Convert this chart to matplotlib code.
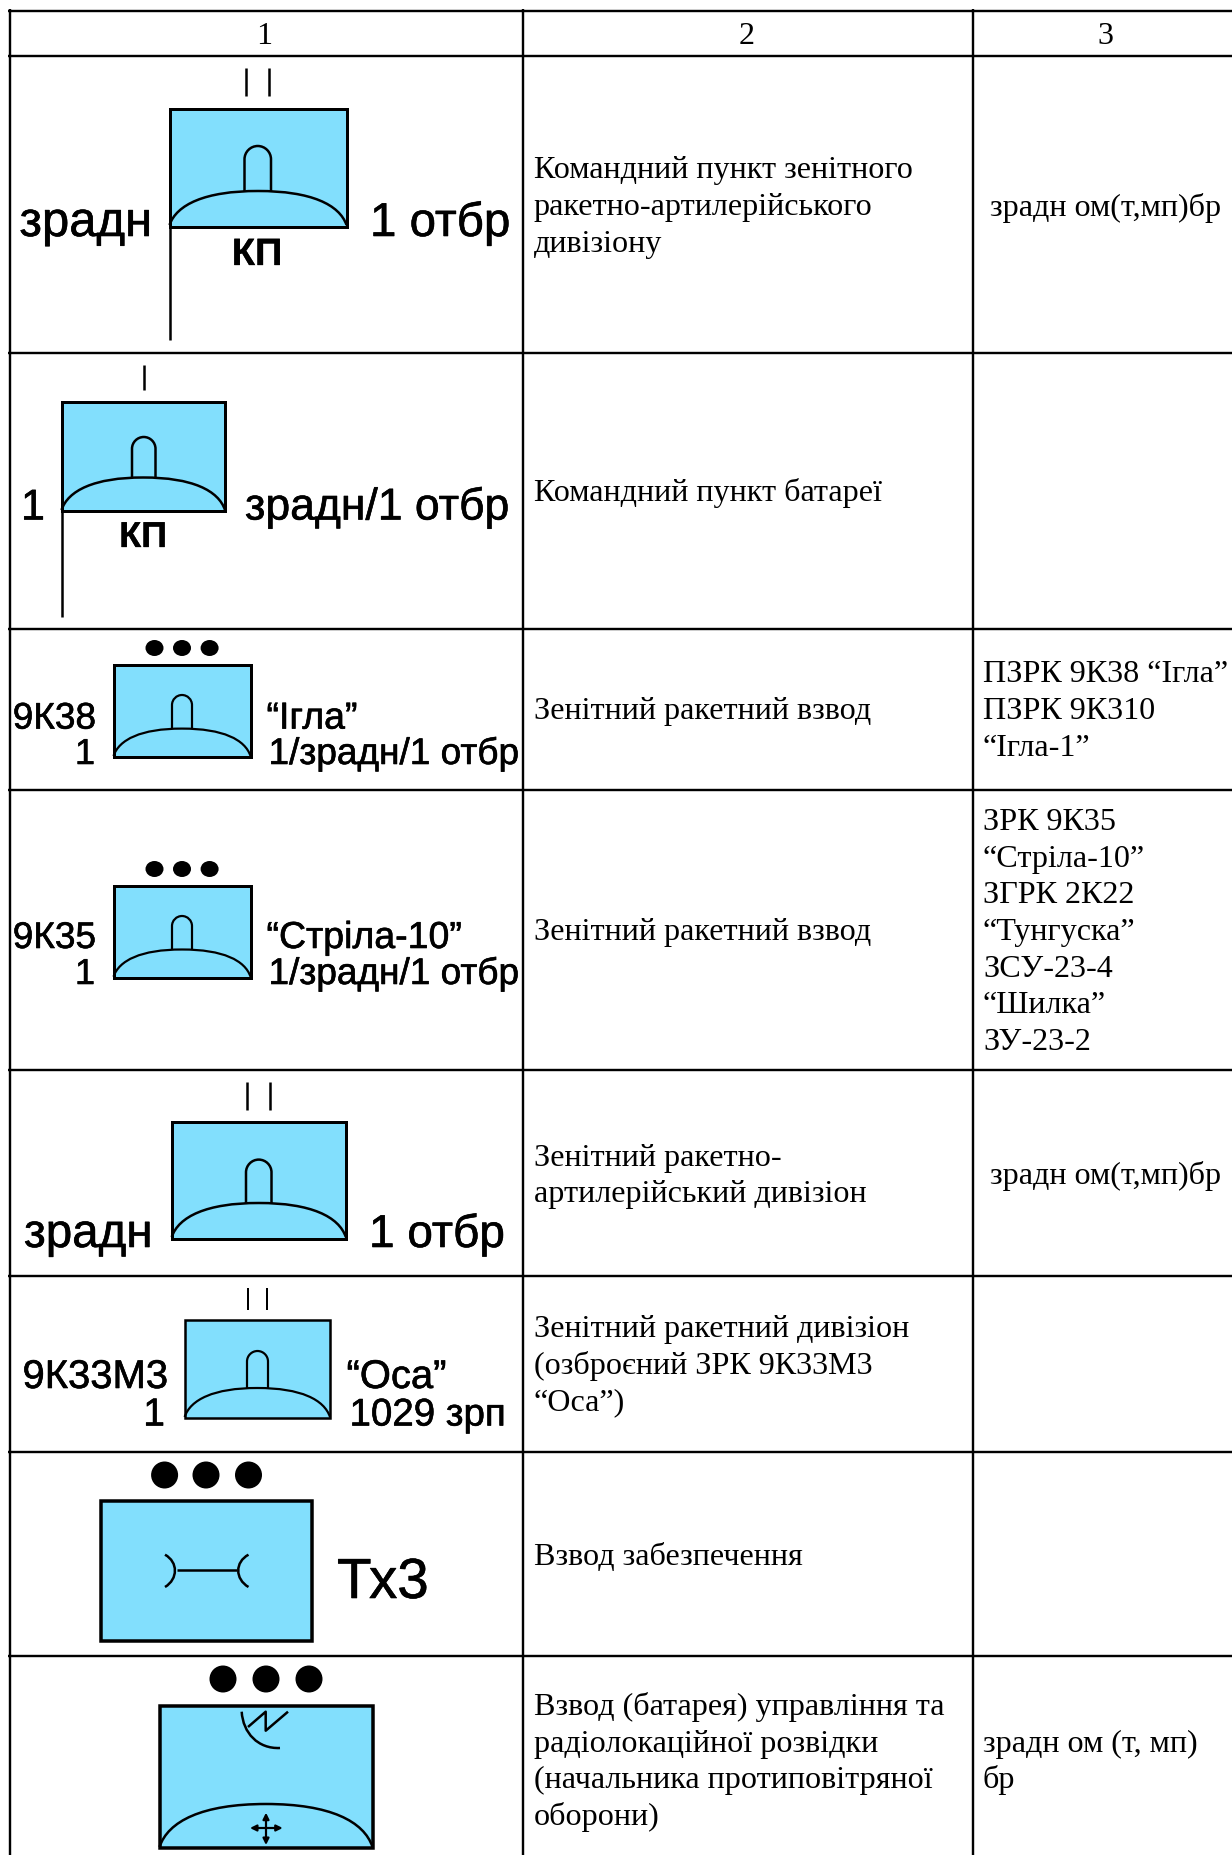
import matplotlib
matplotlib.use('Agg')
import matplotlib.pyplot as plt
import matplotlib.patheffects as pe
from matplotlib.path import Path
from matplotlib.patches import PathPatch, Rectangle, Ellipse

W, H = 1232, 1855
BLUE = '#82DFFD'
SANS = 'Liberation Sans'
SERIF = 'Liberation Serif'

# table grid, in image pixels
col_lines = [9.5, 523, 973]
row_lines = [10.5, 56, 353, 628.5, 789.5, 1070, 1276, 1452, 1656]

# text of the table
headers = ['1', '2', '3']
col2_text = [
    ['Командний пункт зенітного', 'ракетно-артилерійського', 'дивізіону'],
    ['Командний пункт батареї'],
    ['Зенітний ракетний взвод'],
    ['Зенітний ракетний взвод'],
    ['Зенітний ракетно-', 'артилерійський дивізіон'],
    ['Зенітний ракетний дивізіон', '(озброєний ЗРК 9К33М3', '“Оса”)'],
    ['Взвод забезпечення'],
    ['Взвод (батарея) управління та', 'радіолокаційної розвідки', '(начальника протиповітряної', 'оборони)'],
]
col2_mid = [205, 491, 709, 930, 1174, 1364, 1555, 1760]
col3_text = [
    ['зрадн ом(т,мп)бр'],
    [],
    ['ПЗРК 9К38 “Ігла”', 'ПЗРК 9К310', '“Ігла-1”'],
    ['ЗРК 9К35', '“Стріла-10”', 'ЗГРК 2К22', '“Тунгуска”', 'ЗСУ-23-4', '“Шилка”', 'ЗУ-23-2'],
    ['зрадн ом(т,мп)бр'],
    [],
    [],
    ['зрадн ом (т, мп)', 'бр'],
]
col3_mid = [206, 0, 709, 930, 1174, 0, 0, 1760]
col3_x = [989.5, 0, 983, 983, 989.5, 0, 0, 983]

fig = plt.figure(figsize=(W / 100, H / 100), dpi=100)
ax = fig.add_axes([0, 0, 1, 1])
ax.set_xlim(0, W)
ax.set_ylim(H, 0)
ax.axis('off')


def px(v):
    return v * 72 / 100


def label(x, y, s, size, ha='left', weight='normal', family=SANS, stroke=0.6):
    t = ax.text(x, y, s, fontsize=px(size), ha=ha, va='baseline', family=family,
                fontweight=weight, color='black')
    if stroke:
        t.set_path_effects([pe.withStroke(linewidth=px(stroke), foreground='black')])


def curve(verts, codes, lw=2.5, fc='none', z=3):
    ax.add_patch(PathPatch(Path(verts, codes), fc=fc, ec='black', lw=px(lw),
                           capstyle='butt', joinstyle='round', zorder=z))


def box(x0, x1, y0, y1, lw=3):
    ax.add_patch(Rectangle((x0, y0), x1 - x0, y1 - y0, fc=BLUE, ec='black',
                           lw=px(lw), joinstyle='miter', zorder=2))


def dome(x0, x1, yb, ytop, lw=2.5):
    w = x1 - x0
    cx = (x0 + x1) / 2
    h = yb - ytop
    verts = [(x0, yb), (x0 + 0.04 * w, yb - 0.6 * h), (x0 + 0.2 * w, ytop), (cx, ytop),
             (x1 - 0.2 * w, ytop), (x1 - 0.04 * w, yb - 0.6 * h), (x1, yb)]
    codes = [Path.MOVETO] + [Path.CURVE4] * 6
    curve(verts, codes, lw=lw)


def antenna(x0, x1, ybase, ytop, lw=2.5):
    r = (x1 - x0) / 2
    k = 0.55 * r
    verts = [(x0, ybase), (x0, ytop + r), (x0, ytop + r - k), (x0 + r - k, ytop), (x0 + r, ytop),
             (x0 + r + k, ytop), (x1, ytop + r - k), (x1, ytop + r), (x1, ybase)]
    codes = [Path.MOVETO, Path.LINETO] + [Path.CURVE4] * 6 + [Path.LINETO]
    curve(verts, codes, lw=lw)


def bars(xs, y0, y1, lw=2.5):
    for x in xs:
        ax.plot([x, x], [y0, y1], color='black', lw=px(lw), solid_capstyle='butt', zorder=3)


def dots(xs, y, rx, ry):
    for x in xs:
        ax.add_patch(Ellipse((x, y), 2 * rx, 2 * ry, fc='black', ec='none', zorder=3))


def staff(x, y0, y1, lw=2.5):
    ax.plot([x, x], [y0, y1], color='black', lw=px(lw), solid_capstyle='butt', zorder=3)


# grid
for x in col_lines:
    ax.plot([x, x], [row_lines[0] - 1.2, H], color='black', lw=px(2.4), solid_capstyle='butt', zorder=1)
for y in row_lines:
    ax.plot([col_lines[0] - 1.2, W], [y, y], color='black', lw=px(2.4), solid_capstyle='butt', zorder=1)

# headers and text columns
SERIF_PX = 32.2
LEAD = 36.7
for x, s in zip([264, 747, 1105], headers):
    label(x, 44, s, SERIF_PX, ha='center', family=SERIF, stroke=0)
for lines, mid in zip(col2_text, col2_mid):
    top = mid - LEAD * (len(lines) - 1) / 2
    for i, s in enumerate(lines):
        label(533.5, top + LEAD * i + 10, s, SERIF_PX, family=SERIF, stroke=0)
for lines, mid, x in zip(col3_text, col3_mid, col3_x):
    top = mid - LEAD * (len(lines) - 1) / 2
    for i, s in enumerate(lines):
        label(x, top + LEAD * i + 10, s, SERIF_PX, family=SERIF, stroke=0)

# row 1, command post of the battalion
box(169.5, 346.5, 109, 226.5)
dome(169.5, 346.5, 225, 191)
antenna(244.5, 271, 191, 146)
bars([246, 269], 68, 96)
staff(169.5, 226, 340)
label(19.5, 236, 'зрадн', 49)
label(370, 236, '1 отбр', 47.5)
label(257, 265, 'КП', 38, ha='center', weight='bold', stroke=0.3)

# row 2, command post of the battery
box(61.5, 225, 402, 511)
dome(61.5, 225, 510, 477.5)
antenna(132, 155.5, 477.5, 437)
bars([143.6], 364.5, 390)
staff(61.5, 511, 617)
label(21, 519.5, '1', 43)
label(245, 519.5, 'зрадн/1 отбр', 44.5)
label(143, 547, 'КП', 36, ha='center', weight='bold', stroke=0.3)

# row 3 and row 4, platoons
for y0, y1, ytop, ydome, ydot, yt1, yt2, code, name in [
        (665, 757, 695, 728.6, 648, 728.6, 764, '9К38', '“Ігла”'),
        (886.4, 977.7, 916, 949.5, 869, 948, 984, '9К35', '“Стріла-10”')]:
    box(113.5, 250.5, y0, y1)
    dome(113.5, 250.5, y1 - 1, ydome, lw=2.2)
    antenna(172, 192, ydome, ytop, lw=2.2)
    dots([154.5, 182, 209.6], ydot, 9, 8)
    label(96, yt1, code, 37, ha='right')
    label(95, yt2, '1', 36, ha='right')
    label(266.5, yt1, name, 37.5)
    label(268.5, yt2, '1/зрадн/1 отбр', 37)

# row 5, battalion
box(171.7, 345.8, 1122, 1238.7)
dome(171.7, 345.8, 1237, 1203)
antenna(246, 271.5, 1203, 1159.6)
bars([247, 270], 1082, 1109.5)
label(24, 1247, 'зрадн', 47.5)
label(369, 1247, '1 отбр', 46)

# row 6, Osa battalion
box(184.6, 330, 1320.4, 1418, lw=2.5)
dome(184.6, 330, 1417, 1388, lw=2.2)
antenna(247, 268, 1388, 1351, lw=2.2)
bars([248, 267], 1287.5, 1310, lw=2)
label(22.5, 1388, '9К33М3', 40)
label(165, 1425.5, '1', 39, ha='right')
label(346.5, 1388, '“Оса”', 40)
label(349.5, 1425.5, '1029 зрп', 38.5)

# row 7, support platoon
box(101.4, 311.7, 1501, 1641, lw=3.5)
dots([164.6, 206, 248.5], 1475, 13.5, 13.5)
ax.plot([176.5, 236.6], [1570.4, 1570.4], color='black', lw=px(2.5), solid_capstyle='butt', zorder=3)
for xe, xm in [(165, 176.5), (248.5, 236.6)]:
    curve([(xe, 1554.7), (xm + (xm - xe) * 0.15, 1562), (xm + (xm - xe) * 0.15, 1579), (xe, 1587)],
          [Path.MOVETO, Path.CURVE4, Path.CURVE4, Path.CURVE4])
label(337, 1598, 'Тх3', 56.5)

# row 8, control and radar platoon
box(159.5, 372.5, 1706, 1848, lw=3.5)
dome(159.5, 372.5, 1847, 1804)
dots([223, 266, 309], 1679, 13.5, 13.5)
curve([(241.7, 1711.7), (243, 1733), (258, 1749), (280, 1748)],
      [Path.MOVETO, Path.CURVE4, Path.CURVE4, Path.CURVE4])
curve([(248, 1727), (265.7, 1711.7), (265.7, 1730.7), (288, 1711.7)],
      [Path.MOVETO, Path.LINETO, Path.LINETO, Path.LINETO])
for a, b in [((250, 1828), (282.7, 1828)), ((266, 1812.7), (266, 1845))]:
    ax.annotate('', xy=a, xytext=b, zorder=3,
                arrowprops=dict(arrowstyle='<|-|>', color='black', lw=px(2.2),
                                mutation_scale=9, shrinkA=0, shrinkB=0))

fig.savefig('out.png', dpi=100, facecolor='white')
